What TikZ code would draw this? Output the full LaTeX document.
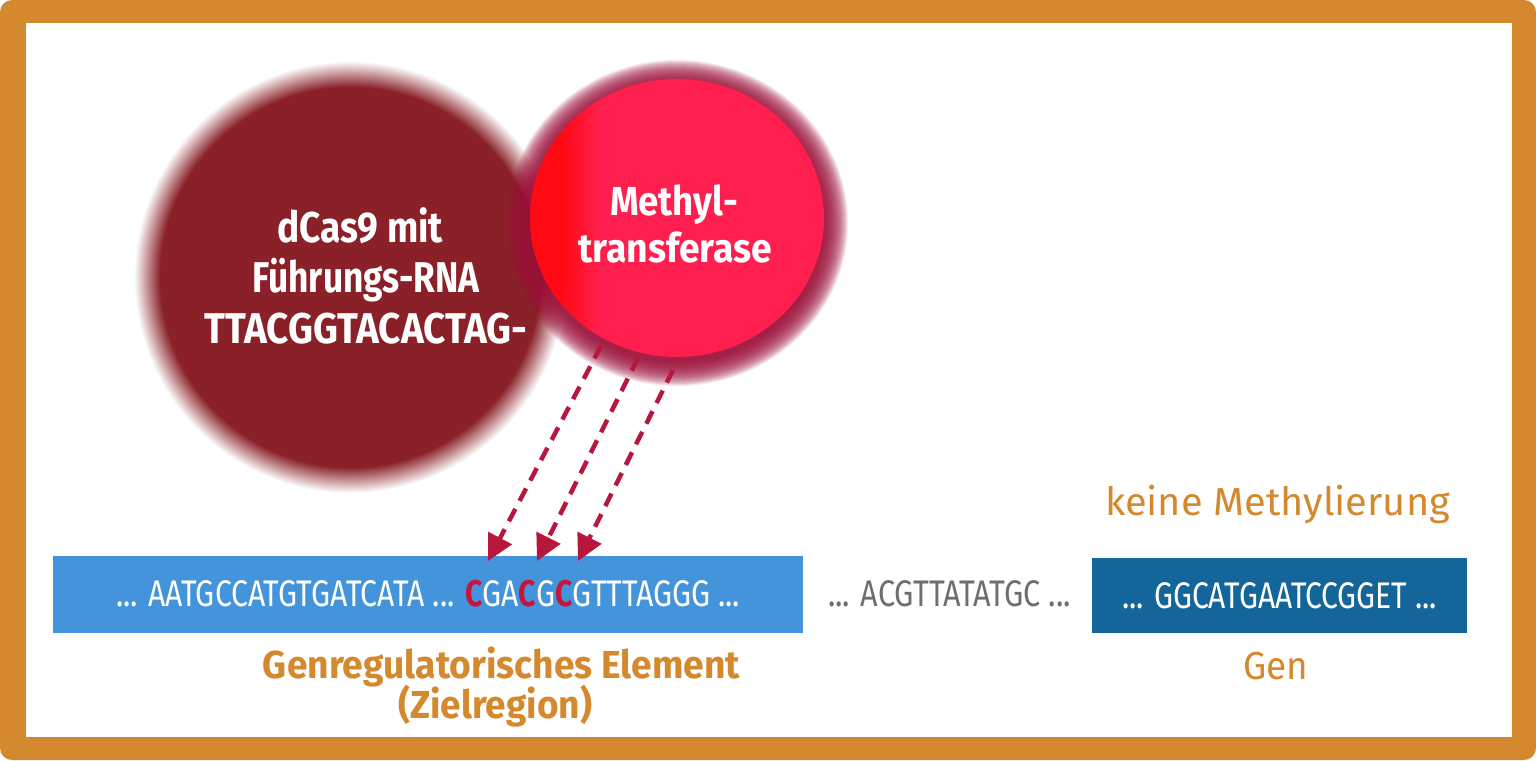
\documentclass[tikz,border=0pt]{standalone}
\usepackage{fontspec}
\setmainfont{Fira Sans}
\usetikzlibrary{arrows.meta}
\definecolor{frameor}{HTML}{D4892E}
\definecolor{dcas}{HTML}{8A2128}
\definecolor{mpink}{HTML}{FF1F4E}
\definecolor{mhalo}{HTML}{A0123C}
\definecolor{mred}{HTML}{FF0A14}
\definecolor{arrowc}{HTML}{B8173D}
\definecolor{barA}{HTML}{4394DB}
\definecolor{barB}{HTML}{14659A}
\definecolor{grayt}{HTML}{6E6E6E}
\definecolor{cred}{HTML}{C8133C}
\pgfdeclareradialshading{dblur}{\pgfpoint{0bp}{0bp}}{color(0bp)=(dcas); color(22bp)=(dcas); color(25bp)=(white); color(50bp)=(white)}
\newcommand\fitw[2]{\resizebox{#1pt}{\height}{#2}}
\newcommand\redC{{\bfseries\color{cred}C}}
\begin{document}
\begin{tikzpicture}[x=1pt,y=-1pt,
  ctext/.style={text=white,font=\bfseries\fontsize{43}{50}\selectfont,anchor=base,inner sep=0pt},
  mtext/.style={text=white,font=\bfseries\fontsize{40.5}{47}\selectfont,anchor=base,inner sep=0pt},
  dnatext/.style={font=\fontsize{37}{42}\selectfont,inner sep=0pt},
  bar/.style={draw=none,inner sep=0pt,text=white},
  olab/.style={text=frameor,font=\fontsize{39}{44}\selectfont,anchor=base,inner sep=0pt},
  olabb/.style={text=frameor,font=\bfseries\fontsize{39}{44}\selectfont,anchor=base,inner sep=0pt},
  marrow/.style={arrowc,line width=4.5pt,dash pattern=on 14pt off 9pt,-{Triangle[length=26pt,width=26pt]}}]
\useasboundingbox (0,0) rectangle (1536,760);
% frame
\fill[frameor,rounded corners=12pt] (0,0) rectangle (1536,760);
\fill[white] (26,23) rectangle (1512,737);
% dCas9 blob (soft edge)
\shade[shading=dblur] (350,277) circle[radius=216pt];
% methyltransferase halo
\foreach \e [evaluate=\e as \ra using 147+\e, evaluate=\e as \rb using 139+\e] in {24,23,...,0}
  \fill[mhalo,opacity=0.095] (677,223) ellipse[x radius=\ra pt, y radius=\rb pt];
\fill[mpink] (677,218) ellipse[x radius=147pt, y radius=139pt];
\begin{scope}
  \clip (677,218) ellipse[x radius=147pt, y radius=139pt];
  \fill[mred] (520,60) rectangle (562,380);
  \shade[left color=mred,right color=mpink] (561,60) rectangle (600,380);
\end{scope}
% texts in blobs
\node[ctext] (cas1) at (360,242) {\fitw{166}{dCas9 mit}};
\node[ctext] (cas2) at (366,292) {\fitw{227}{Führungs-RNA}};
\node[ctext] (cas3) at (366,343) {\fitw{323}{TTACGGTACACTAG-}};
\node[mtext] (mt1) at (674,215) {\fitw{128}{Methyl-}};
\node[mtext] (mt2) at (675,262) {\fitw{194}{transferase}};
% DNA bars
\node[bar,fill=barA,minimum width=750pt,minimum height=77pt] (elem) at (428,594)
  {\fontsize{37}{42}\selectfont\fitw{624}{... AATGCCATGTGATCATA ... \redC GA\redC G\redC GTTTAGGG ...}};
\node[dnatext,text=grayt] (mid) at (949.5,594) {\fitw{243}{... ACGTTATATGC ...}};
\node[bar,fill=barB,minimum width=375pt,minimum height=75pt] (gene) at (1279.5,595.5)
  {\fontsize{37}{42}\selectfont\fitw{315}{... GGCATGAATCCGGET ...}};
% arrows
\coordinate (s1) at (601,346);
\coordinate (s2) at (638,358);
\coordinate (s3) at (673,370);
\coordinate (t1) at (488,561);
\coordinate (t2) at (537,561);
\coordinate (t3) at (578,561);
\draw[marrow] (s1) -- (t1);
\draw[marrow] (s2) -- (t2);
\draw[marrow] (s3) -- (t3);
% labels
\node[olab] (nometh) at (1277.5,515) {\fitw{345}{keine Methylierung}};
\node[olab] (genlab) at (1275.5,679) {\fitw{65}{Gen}};
\node[olabb] (reg1) at (501.5,678) {\fitw{477}{Genregulatorisches Element}};
\node[olabb] (reg2) at (495,718) {\fitw{194}{(Zielregion)}};
\end{tikzpicture}
\end{document}
